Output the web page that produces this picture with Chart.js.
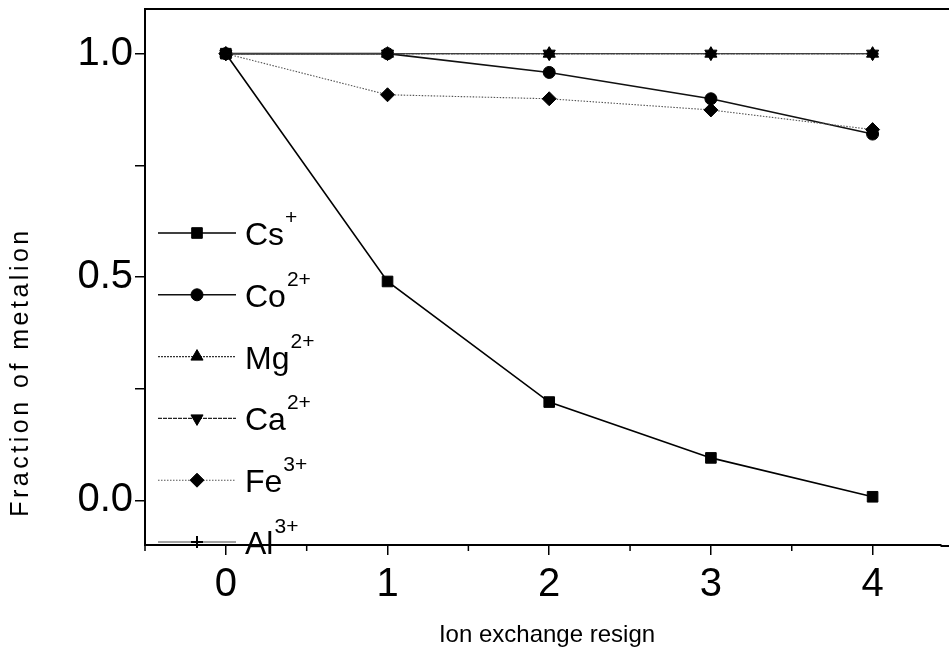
<!DOCTYPE html>
<html><head><meta charset="utf-8">
<script src="https://cdn.jsdelivr.net/npm/chart.js@4"></script>
<style>html,body{margin:0;padding:0;background:#fff}canvas{display:block}</style>
</head><body>
<canvas id="c" width="949" height="655"></canvas>
<script>
// ---- data ----
const xValues = [0, 1, 2, 3, 4];
const csValues = [1.0, 0.49, 0.22, 0.095, 0.008];
const coValues = [1.0, 1.0, 0.958, 0.899, 0.82];
const mgValues = [1.0, 1.0, 1.0, 1.0, 1.0];
const caValues = [1.0, 1.0, 1.0, 1.0, 1.0];
const feValues = [1.0, 0.908, 0.899, 0.874, 0.83];
const alValues = [1.0, 1.0, 1.0, 1.0, 1.0];
const seriesNames = ['Cs', 'Co', 'Mg', 'Ca', 'Fe', 'Al'];
const seriesCharges = ['+', '2+', '2+', '2+', '3+', '3+'];
const xTickValues = [0, 1, 2, 3, 4];
const xMinorTickValues = [-0.5, 0.5, 1.5, 2.5, 3.5];
const yTickValues = [0, 0.25, 0.5, 0.75, 1.0];
const yLabelValues = [0, 0.5, 1.0];
const xTitle = 'Ion exchange resign';
const yTitle = 'Fraction of metalion';

const FONT = "'Liberation Sans', Arial, sans-serif";
const toPts = vals => vals.map((v, i) => ({x: xValues[i], y: v}));

const styles = [
  {pointStyle: 'rect', pointRadius: 7.5, borderDash: [], borderColor: '#000', borderWidth: 1.6, rotation: 0},
  {pointStyle: 'circle', pointRadius: 6, borderDash: [], borderColor: '#111', borderWidth: 1.6, rotation: 0},
  {pointStyle: 'triangle', pointRadius: 7, borderDash: [2, 1], borderColor: '#333', borderWidth: 1.2, rotation: 0},
  {pointStyle: 'triangle', pointRadius: 7, borderDash: [4, 1], borderColor: '#222', borderWidth: 1.2, rotation: 180},
  {pointStyle: 'rectRot', pointRadius: 7, borderDash: [1.5, 1.5], borderColor: '#555', borderWidth: 1.1, rotation: 0},
  {pointStyle: 'cross', pointRadius: 6, borderDash: [], borderColor: '#444', borderWidth: 1.0, rotation: 0}
];
const allValues = [csValues, coValues, mgValues, caValues, feValues, alValues];

const datasets = allValues.map((vals, i) => ({
  label: seriesNames[i] + seriesCharges[i],
  data: toPts(vals),
  borderColor: styles[i].borderColor,
  borderWidth: styles[i].borderWidth,
  borderDash: styles[i].borderDash,
  pointStyle: styles[i].pointStyle,
  pointRadius: styles[i].pointRadius,
  pointRotation: styles[i].rotation,
  pointBackgroundColor: '#000',
  pointBorderColor: '#000',
  pointBorderWidth: styles[i].pointStyle === 'cross' ? 2 : 1,
  showLine: true,
  fill: false,
  tension: 0,
  clip: false
})).reverse();

const extrasPlugin = {
  id: 'extras',
  afterDraw(chart) {
    const ctx = chart.ctx;
    const a = chart.chartArea;
    const xs = chart.scales.x;
    ctx.save();
    // top frame line
    ctx.strokeStyle = '#000';
    ctx.lineWidth = 2;
    ctx.beginPath();
    ctx.moveTo(a.left - 1, a.top);
    ctx.lineTo(chart.width, a.top);
    ctx.stroke();
    // extend bottom axis to canvas edge
    ctx.beginPath();
    ctx.moveTo(a.right, a.bottom + 1);
    ctx.lineTo(chart.width, a.bottom + 1);
    ctx.stroke();
    // minor x ticks
    ctx.lineWidth = 1.5;
    xMinorTickValues.forEach(v => {
      const px = xs.getPixelForValue(v);
      ctx.beginPath();
      ctx.moveTo(px, a.bottom);
      ctx.lineTo(px, a.bottom + 6);
      ctx.stroke();
    });
    // legend
    const x0 = a.left + 13, x1 = a.left + 91, xm = a.left + 52, xt = a.left + 100;
    const y0 = a.top + 224, step = 61.8;
    [0, 1, 2, 3, 4, 5].forEach((i, k) => {
      const y = y0 + k * step;
      const st = styles[i];
      ctx.strokeStyle = st.borderColor;
      ctx.lineWidth = st.borderWidth;
      ctx.setLineDash(st.borderDash);
      ctx.beginPath();
      ctx.moveTo(x0, y);
      ctx.lineTo(x1, y);
      ctx.stroke();
      ctx.setLineDash([]);
      ctx.fillStyle = '#000';
      ctx.strokeStyle = '#000';
      ctx.lineWidth = st.pointStyle === 'cross' ? 2 : 1;
      Chart.helpers.drawPoint(ctx, {pointStyle: st.pointStyle, radius: st.pointRadius, rotation: st.rotation, borderWidth: ctx.lineWidth}, xm, y);
      ctx.fillStyle = '#000';
      ctx.textBaseline = 'alphabetic';
      ctx.textAlign = 'left';
      ctx.font = '32px ' + FONT;
      ctx.fillText(seriesNames[i], xt, y + 12);
      const w = ctx.measureText(seriesNames[i]).width;
      ctx.font = '21px ' + FONT;
      ctx.fillText(seriesCharges[i], xt + w + 1, y - 9);
    });
    // axis titles
    ctx.fillStyle = '#000';
    ctx.font = '24px ' + FONT;
    ctx.textAlign = 'center';
    ctx.textBaseline = 'middle';
    ctx.fillText(xTitle, (a.left + 949) / 2, 635);
    ctx.save();
    ctx.translate(21, 372);
    ctx.rotate(-Math.PI / 2);
    ctx.font = '25px ' + FONT;
    ctx.letterSpacing = '3.5px';
    ctx.fillText(yTitle, 0, 0);
    ctx.restore();
    ctx.restore();
  }
};

new Chart(document.getElementById('c'), {
  type: 'scatter',
  data: {datasets},
  options: {
    responsive: false,
    animation: false,
    layout: {padding: {top: 9, right: 0, left: 0, bottom: 0}},
    plugins: {legend: {display: false}, tooltip: {enabled: false}},
    scales: {
      x: {
        type: 'linear',
        min: -0.5,
        max: 4.42,
        afterBuildTicks: s => { s.ticks = xTickValues.map(v => ({value: v})); },
        afterFit: s => { s.height = 110; },
        grid: {display: true, drawOnChartArea: false, drawTicks: true, tickLength: 10, color: '#000', lineWidth: 1.5},
        border: {display: true, color: '#000', width: 2},
        ticks: {color: '#000', font: {family: FONT, size: 40}, padding: 6, maxRotation: 0, autoSkip: false,
          callback: v => String(v)}
      },
      y: {
        type: 'linear',
        min: -0.1,
        max: 1.1,
        afterBuildTicks: s => { s.ticks = yTickValues.map(v => ({value: v})); },
        afterFit: s => { s.width = 145; },
        grid: {display: true, drawOnChartArea: false, drawTicks: true, tickLength: 10, color: '#000', lineWidth: 1.5},
        border: {display: true, color: '#000', width: 2},
        ticks: {color: '#000', font: {family: FONT, size: 40, lineHeight: 0.3}, padding: 2, autoSkip: false,
          callback: v => yLabelValues.includes(v) ? v.toFixed(1) : ''}
      }
    }
  },
  plugins: [extrasPlugin]
});
</script>
</body></html>
